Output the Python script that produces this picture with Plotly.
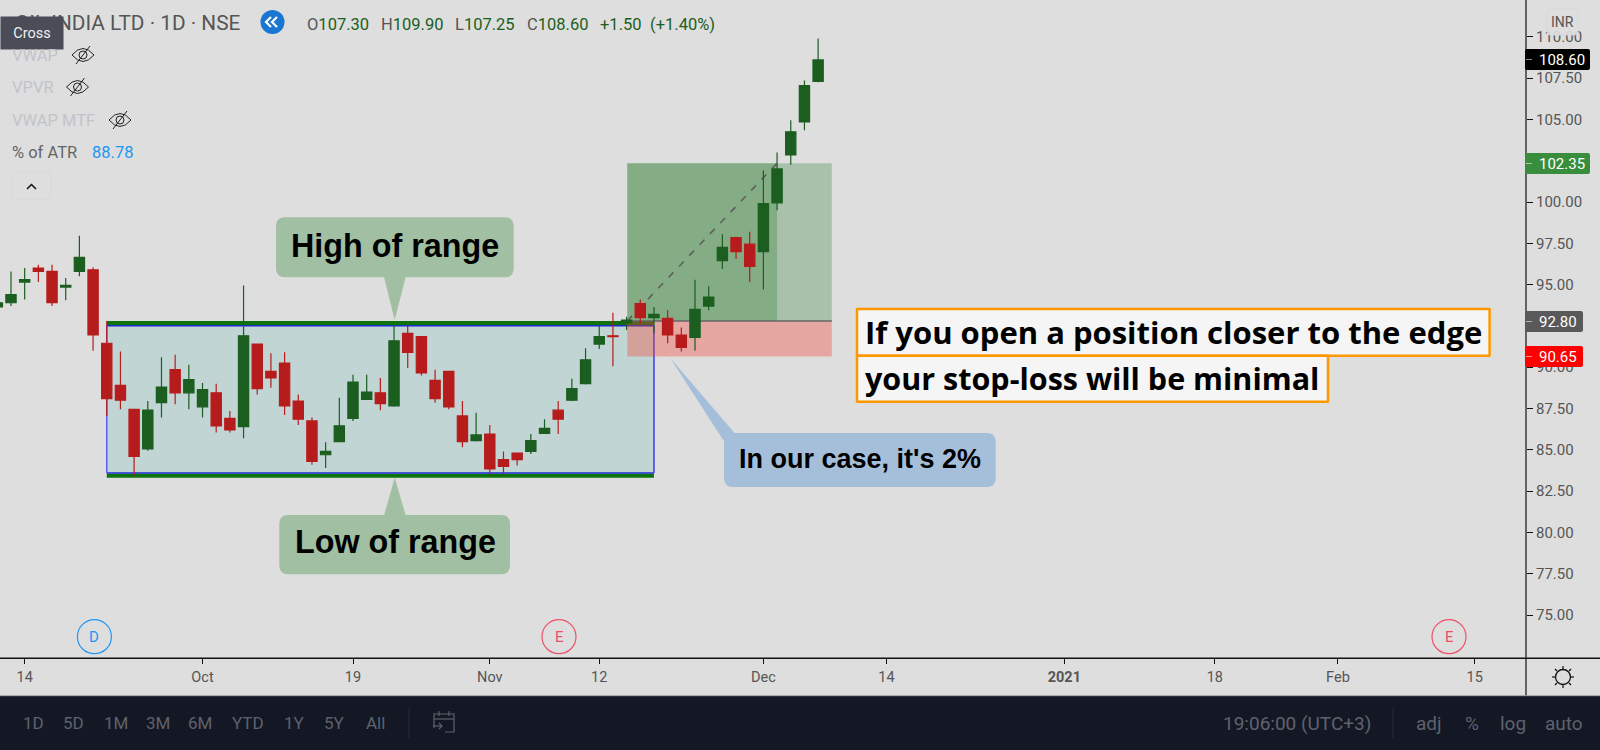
import plotly.graph_objects as go

W, H = 1600, 750
PANE_R, PANE_B = 1526, 658.3
BG = "#dedede"

OPEN = [93.65,93.9,95.15,96.0,95.8,94.85,95.8,95.9,91.45,88.9,87.45,85.05,87.85,89.85,88.45,87.6,88.45,86.9,86.4,91.4,
        89.75,90.25,87.95,86.75,84.7,85.5,86.9,88.05,88.45,87.65,92.05,91.85,89.2,89.75,87.05,85.55,85.95,84.4,84.8,84.9,
        86.0,87.4,88.0,89.0,91.4,91.9,92.7,93.85,93.0,92.95,91.95,91.8,93.7,96.45,97.85,97.45,97.0,99.95,102.85,104.85,107.30]
HIGH = [94.0,95.8,96.0,96.2,96.2,95.4,97.95,96.05,92.8,90.95,87.45,87.95,90.6,90.75,90.15,89.05,89.0,87.35,94.95,91.4,
        90.85,90.9,88.35,86.95,85.45,88.15,89.55,89.55,89.35,92.55,92.5,91.85,89.85,89.75,87.95,87.25,86.5,84.9,84.8,85.95,
        86.85,87.95,89.3,91.15,92.5,93.3,93.05,94.1,93.65,93.45,92.4,95.3,94.9,98.05,97.9,98.2,101.9,103.0,104.95,107.35,109.90]
LOW = [93.6,93.7,94.1,95.15,93.7,94.05,95.5,91.0,87.05,87.45,83.45,84.95,86.95,87.75,87.45,86.95,86.05,86.05,85.7,88.35,
       88.75,87.1,86.5,84.1,83.9,85.5,86.75,88.05,87.4,87.6,89.95,89.5,87.85,87.45,85.15,85.5,83.5,83.45,84.05,84.75,
       85.95,85.95,87.95,88.95,91.1,90.05,92.25,92.65,92.05,91.45,90.95,91.0,93.45,95.95,96.55,95.15,94.7,99.5,102.25,104.35,107.25]
CLOSE = [93.9,94.4,95.3,95.8,93.9,94.95,96.65,91.95,88.1,88.0,84.6,87.4,88.8,88.45,89.25,88.65,86.45,86.2,91.9,88.7,
         89.35,87.65,86.85,84.3,84.9,86.45,89.1,88.5,87.8,91.6,90.9,89.65,88.1,87.6,85.5,85.9,83.85,84.0,84.4,85.55,
         86.3,86.85,88.7,90.45,91.85,91.85,92.85,93.0,93.2,91.95,91.2,93.5,94.25,97.25,97.0,96.1,99.9,102.0,104.25,107.05,108.60]
BAR = list(range(len(OPEN)))

X_TICK_POS = [2, 15, 26, 36, 44, 56, 65, 78, 89, 98, 108]
X_TICK_TXT = ["14", "Oct", "19", "Nov", "12", "Dec", "14", "<b>2021</b>", "18", "Feb", "15"]
Y_TICKS = [75, 77.5, 80, 82.5, 85, 87.5, 90, 95, 97.5, 100, 105, 107.5, 110]

RANGE_X = [8, 48]
RANGE_BOX = [83.59, 92.51]
RANGE_LINES = [83.43, 92.68]
POS_X = [46.05, 57, 61]
TARGET, ENTRY, STOP = 102.35, 92.80, 90.65
LAST = 108.60

PERIODS = ["1D", "5D", "1M", "3M", "6M", "YTD", "1Y", "5Y", "All"]
PERIOD_X = [33, 73.5, 116, 158, 200, 248, 294, 334, 375]

x_lo = (0 + 2.68) / 13.68
x_hi = (PANE_R + 2.68) / 13.68
y_hi = 100 + 202 / 16.52
y_lo = 100 - (PANE_B - 202) / 16.52

fig = go.Figure(go.Candlestick(
    x=BAR, open=OPEN, high=HIGH, low=LOW, close=CLOSE,
    increasing=dict(line=dict(color="#1b5e20", width=1.2), fillcolor="#1b5e20"),
    decreasing=dict(line=dict(color="#b71c1c", width=1.2), fillcolor="#b71c1c"),
    whiskerwidth=0, showlegend=False, hoverinfo="skip",
))

px = lambda x: x / W
py = lambda y: 1 - y / H
shapes, notes = [], []


def data_rect(x0, x1, y0, y1, fill):
    shapes.append(dict(type="rect", xref="x", yref="y", x0=x0, x1=x1, y0=y0, y1=y1,
                       fillcolor=fill, layer="below", line=dict(width=0)))


def data_line(x0, x1, y0, y1, color, width, dash="solid"):
    shapes.append(dict(type="line", xref="x", yref="y", x0=x0, x1=x1, y0=y0, y1=y1, layer="below",
                       line=dict(color=color, width=width, dash=dash)))


def path(points, close=False, fill=None, color=None, width=1, raw=None):
    if raw is None:
        raw = "M" + " L".join(f"{px(a):.5f},{py(b):.5f}" for a, b in points) + (" Z" if close else "")
    shapes.append(dict(type="path", xref="paper", yref="paper", path=raw, layer="above",
                       fillcolor=fill or "rgba(0,0,0,0)",
                       line=dict(color=color or "rgba(0,0,0,0)", width=width if color else 0)))


def round_rect(x0, y0, x1, y1, r, fill, color=None, width=1):
    p = lambda a, b: f"{px(a):.5f},{py(b):.5f}"
    d = (f"M{p(x0+r,y0)} L{p(x1-r,y0)} Q{p(x1,y0)} {p(x1,y0+r)} L{p(x1,y1-r)} Q{p(x1,y1)} {p(x1-r,y1)} "
         f"L{p(x0+r,y1)} Q{p(x0,y1)} {p(x0,y1-r)} L{p(x0,y0+r)} Q{p(x0,y0)} {p(x0+r,y0)} Z")
    path(None, fill=fill, color=color, width=width, raw=d)


def circle(cx, cy, r, fill=None, color=None, width=1):
    shapes.append(dict(type="circle", xref="paper", yref="paper", x0=px(cx - r), x1=px(cx + r),
                       y0=py(cy + r), y1=py(cy - r), layer="above",
                       fillcolor=fill or "rgba(0,0,0,0)",
                       line=dict(color=color or "rgba(0,0,0,0)", width=width if color else 0)))


def text(x, y, s, size=15, color="#555", anchor="left", family="Roboto", **kw):
    notes.append(dict(xref="paper", yref="paper", x=px(x), y=py(y), text=s, showarrow=False,
                      xanchor=anchor, yanchor="middle", borderpad=0,
                      font=dict(size=size, color=color, family=family), **kw))


# ---- drawings on the price scale
data_rect(RANGE_X[0], RANGE_X[1], RANGE_BOX[0], RANGE_BOX[1], "#c0d5d4")
for v in RANGE_LINES:
    data_line(RANGE_X[0], RANGE_X[1], v, v, "#0d730f", 4)
data_line(RANGE_X[0], RANGE_X[1], RANGE_BOX[1], RANGE_BOX[1], "#1a2bd6", 1.5)
data_line(RANGE_X[0], RANGE_X[1], RANGE_BOX[0], RANGE_BOX[0], "#1a2bd6", 1.5)
data_line(RANGE_X[0], RANGE_X[0], RANGE_BOX[0], RANGE_BOX[1], "#5c5cf5", 1.5)
data_line(RANGE_X[1], RANGE_X[1], RANGE_BOX[0], RANGE_BOX[1], "#3a3af5", 1.5)
data_rect(POS_X[0], POS_X[2], ENTRY, TARGET, "rgba(46,125,50,0.3)")
data_rect(POS_X[0], POS_X[1], ENTRY, TARGET, "rgba(46,125,50,0.3)")
data_rect(POS_X[0], POS_X[2], STOP, ENTRY, "rgba(244,67,54,0.36)")
data_line(POS_X[0], POS_X[2], ENTRY, ENTRY, "#666666", 1.5)
data_line(POS_X[0], POS_X[1], ENTRY, TARGET, "#5f5f5f", 1.6, "7px,8px")

# ---- callouts
GREEN_BOX, BLUE_BOX = "#a0bfa3", "#a5bfdb"
round_rect(276, 217.3, 513.7, 277.3, 9, GREEN_BOX)
path([(384, 277), (405.7, 277), (394.7, 320)], True, GREEN_BOX)
text(395, 245.7, "<b>High of range</b>", 32.3, "#000", "center", "Liberation Sans")
round_rect(279.3, 515, 510, 574.3, 9, GREEN_BOX)
path([(384, 515.5), (405.7, 515.5), (394.7, 477.7)], True, GREEN_BOX)
text(395, 542, "<b>Low of range</b>", 32.3, "#000", "center", "Liberation Sans")
round_rect(724, 433, 995.7, 487, 9, BLUE_BOX)
path([(735, 433.5), (724.5, 442), (670, 357.7)], True, BLUE_BOX)
text(859.7, 459, "<b>In our case, it's 2%</b>", 27, "#000", "center", "Liberation Sans")

round_rect(857, 309, 1489.6, 355.7, 0.1, "#f5f5f5", "#ff9800", 2.5)
round_rect(857, 355.7, 1328, 401.7, 0.1, "#f5f5f5", "#ff9800", 2.5)
text(864, 331.7, "<b>If you open a position closer to the edge</b>", 31, "#000", family="Open Sans")
text(864, 378, "<b>your stop-loss will be minimal</b>", 30.5, "#000", family="Open Sans")

# ---- pane frame
path([(PANE_R, 0), (PANE_R, 696)], color="#111", width=1.2)
path([(0, PANE_B), (W, PANE_B)], color="#111", width=1.4)

# ---- price labels
for v, y0, x1, col in [(LAST, 49, 1590, "#000000"), (TARGET, 153, 1590, "#388e3c"),
                       (ENTRY, 311, 1583, "#595959"), (STOP, 346, 1583, "#ff0000")]:
    round_rect(1525, y0, x1, y0 + 21, 2, col)
    path([(1526, y0 + 10.5), (1532, y0 + 10.5)], color="rgba(255,255,255,0.55)", width=1)
    text(1538, y0 + 10.8, f"{v:.2f}", 15, "#fff")
round_rect(1547, 9, 1578, 35, 4, "rgba(222,222,222,0.9)", "#d5d8e0", 1)
text(1562.5, 22, "INR", 14, "#555", "center")

# ---- header and legend
text(13.5, 23, "OIL INDIA LTD · 1D · NSE", 20.8, "#555")
text(0, 33, "Cross", 14.5, "#f0f0f0", bgcolor="#4a4c58", width=62, height=32, align="center")
circle(272.5, 22, 12, "#1976d2")
for off in (0, 6):
    path([(271 + off, 17), (266 + off, 22), (271 + off, 27)], color="#fff", width=2.2)
OHLC = [(306, "O", "107.30"), (380, "H", "109.90"), (454, "L", "107.25"), (525.5, "C", "108.60")]
for x, a, b in OHLC:
    text(x, 24, f'<span style="color:#555">{a}</span>{b}', 16.5, "#1b5e20")
text(598.5, 24, "+1.50", 16.5, "#1b5e20")
text(649, 24, "(+1.40%)", 16.5, "#1b5e20")

FADED = "#c2c4ca"
LEG = [(55, "VWAP", 83), (87, "VPVR", 77.5), (120, "VWAP MTF", 120)]
for y, name, ex in LEG:
    text(11, y, name, 16.5, FADED)
    p = lambda a, b: f"{px(a):.5f},{py(b):.5f}"
    d = (f"M{p(ex-11,y)} Q{p(ex,y-13)} {p(ex+11,y)} Q{p(ex,y+13)} {p(ex-11,y)} Z")
    path(None, color="#222", width=1, raw=d)
    circle(ex, y, 4, None, "#222", 1)
    path([(ex - 7, y + 9), (ex + 7, y - 9)], color="#222", width=1)
text(11, 153, "% of ATR", 16.5, "#666")
text(90.5, 153, "88.78", 16.5, "#2196f3")
round_rect(12, 172, 51, 199, 4, "rgba(0,0,0,0)", "#d6d8de", 1)
path([(27, 189), (31.5, 184.5), (36, 189)], color="#111", width=1.5)

# ---- event markers
for cx, lab, col in [(94.4, "D", "#2196f3"), (559, "E", "#ef5069"), (1449, "E", "#ef5069")]:
    circle(cx, 636.7, 17, None, col, 1.2)
    text(cx, 636.7, lab, 15, col, "center")

# ---- settings icon
circle(1563, 677, 7.5, None, "#111", 1.3)
for a, b, c, d_ in [(1563, 666, 1563, 669), (1563, 685, 1563, 688), (1552, 677, 1555, 677), (1571, 677, 1574, 677),
                    (1555, 669, 1557, 671), (1569, 683, 1571, 685), (1555, 685, 1557, 683), (1569, 671, 1571, 669)]:
    path([(a, b), (c, d_)], color="#111", width=1.2)

# ---- bottom toolbar
path([(0, 696), (W, 696), (W, H), (0, H)], True, "#141824")
path([(0, 695.7), (W, 695.7)], color="#9a9ca3", width=1)
for x, s in zip(PERIOD_X, PERIODS):
    text(x, 723, s, 17, "#5f626d", "center")
path([(409, 708), (409, 738)], color="#2a2e39", width=1)
path([(434, 728), (434, 714), (454, 714), (454, 732), (445, 732)], color="#5f626d", width=1.2)
path([(434, 719), (454, 719)], color="#5f626d", width=1.2)
path([(439, 711), (439, 716)], color="#5f626d", width=1.2)
path([(449, 711), (449, 716)], color="#5f626d", width=1.2)
path([(433, 726), (442, 726)], color="#5f626d", width=1.2)
path([(439, 723), (442, 726), (439, 729)], color="#5f626d", width=1.2)
text(1297, 723, "19:06:00 (UTC+3)", 19, "#5f626d", "center")
path([(1393, 708), (1393, 738)], color="#2a2e39", width=1)
for x, s in [(1429, "adj"), (1472, "%"), (1513, "log"), (1564, "auto")]:
    text(x, 723, s, 19, "#5f626d", "center")

fig.update_layout(
    width=W, height=H, margin=dict(l=0, r=0, t=0, b=0), paper_bgcolor=BG, plot_bgcolor=BG,
    showlegend=False, boxgap=0.25, boxgroupgap=0, shapes=shapes, annotations=notes,
    font=dict(family="Roboto", color="#555"),
    xaxis=dict(domain=[0, PANE_R / W], range=[x_lo, x_hi], rangeslider=dict(visible=False), showgrid=False,
               zeroline=False, tickmode="array", tickvals=X_TICK_POS, ticktext=X_TICK_TXT, ticks="outside",
               ticklen=5, tickcolor="#111", tickfont=dict(size=14.5, color="#555", family="Roboto")),
    yaxis=dict(domain=[1 - PANE_B / H, 1], range=[y_lo, y_hi], side="right", showgrid=False, zeroline=False,
               tickmode="array", tickvals=Y_TICKS, ticktext=[f"{v:.2f}" for v in Y_TICKS], ticks="outside",
               ticklen=6, tickcolor="#111", tickfont=dict(size=15, color="#555", family="Roboto")),
)

fig.write_html("out.html", config={"displayModeBar": False},
               post_script="document.body.style.margin='0';document.body.style.overflow='hidden';")
